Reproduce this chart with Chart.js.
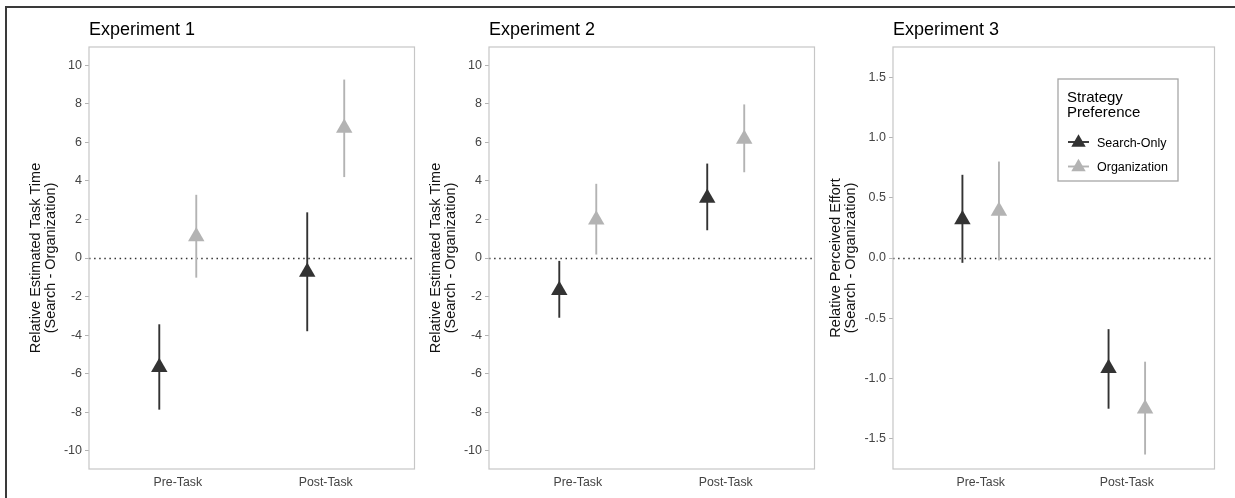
<!DOCTYPE html>
<html>
<head>
<meta charset="utf-8">
<script src="https://cdn.jsdelivr.net/npm/chart.js@4.4.0/dist/chart.umd.min.js"></script>
<style>
  body { margin: 0; background: #fff; font-family: "Liberation Sans", Arial, sans-serif; }
  #page { position: relative; width: 1235px; height: 498px; overflow: hidden; background: #fff; }
  #frame { position: absolute; left: 5px; top: 6px; right: -4px; bottom: -4px; border-top: 2px solid #3a3a3a; border-left: 2px solid #3a3a3a; }
  canvas { position: absolute; top: 8px; }
</style>
</head>
<body>
<div id="page">
  <div id="frame"></div>
  <canvas id="exp1" width="397" height="490" style="left:27px"></canvas>
  <canvas id="exp2" width="397" height="490" style="left:427px"></canvas>
  <canvas id="exp3" width="397" height="490" style="left:827px"></canvas>
</div>
<script>
// x categories and series names
const categories = ['Pre-Task', 'Post-Task'];
const seriesNames = ['Search-Only', 'Organization'];
const seriesColors = ['#333333', '#b3b3b3'];

// Experiment 1: means and interval ends (Pre, Post)
const exp1SearchMean = [-5.67, -0.73];
const exp1SearchLow = [-7.87, -3.80];
const exp1SearchHigh = [-3.44, 2.37];
const exp1OrgMean = [1.12, 6.74];
const exp1OrgLow = [-1.02, 4.20];
const exp1OrgHigh = [3.28, 9.26];

// Experiment 2
const exp2SearchMean = [-1.67, 3.11];
const exp2SearchLow = [-3.10, 1.44];
const exp2SearchHigh = [-0.15, 4.90];
const exp2OrgMean = [1.99, 6.18];
const exp2OrgLow = [0.18, 4.45];
const exp2OrgHigh = [3.85, 7.97];

// Experiment 3
const exp3SearchMean = [0.32, -0.915];
const exp3SearchLow = [-0.04, -1.25];
const exp3SearchHigh = [0.69, -0.59];
const exp3OrgMean = [0.39, -1.25];
const exp3OrgLow = [-0.02, -1.63];
const exp3OrgHigh = [0.80, -0.86];

// y tick labels
const timeTicks = [-10, -8, -6, -4, -2, 0, 2, 4, 6, 8, 10];
const effortTicks = [-1.5, -1.0, -0.5, 0.0, 0.5, 1.0, 1.5];

const dodge = 0.125;
const font = '"Liberation Sans", Arial, sans-serif';

function toPoints(means, offset) {
    return means.map((m, i) => ({ x: i + 1 + offset, y: m }));
}

// error bars, zero line, panel border and panel title
const panelDecor = {
    id: 'panelDecor',
    beforeDatasetsDraw(chart, args, opts) {
        const ctx = chart.ctx;
        const area = chart.chartArea;
        const xs = chart.scales.x;
        const ys = chart.scales.y;

        ctx.save();
        // dotted reference line at zero
        ctx.strokeStyle = '#333333';
        ctx.lineWidth = 1.6;
        ctx.setLineDash([1.5, 3.6]);
        ctx.beginPath();
        const y0 = Math.round(ys.getPixelForValue(0)) + 0.5;
        ctx.moveTo(area.left, y0);
        ctx.lineTo(area.right, y0);
        ctx.stroke();
        ctx.setLineDash([]);

        // vertical interval lines
        opts.bars.forEach((s, si) => {
            ctx.strokeStyle = seriesColors[si];
            ctx.lineWidth = 1.9;
            s.low.forEach((lo, i) => {
                const x = xs.getPixelForValue(i + 1 + s.offset);
                ctx.beginPath();
                ctx.moveTo(x, ys.getPixelForValue(lo));
                ctx.lineTo(x, ys.getPixelForValue(s.high[i]));
                ctx.stroke();
            });
        });

        // panel border
        ctx.strokeStyle = '#c6c6c6';
        ctx.lineWidth = 1.2;
        ctx.strokeRect(area.left, area.top, area.right - area.left, area.bottom - area.top);

        // panel title
        ctx.fillStyle = '#000';
        ctx.font = '18px ' + font;
        ctx.textAlign = 'left';
        ctx.textBaseline = 'alphabetic';
        ctx.fillText(opts.title, area.left, 27);
        ctx.restore();
    }
};

function triangle(ctx, x, y, r) {
    ctx.beginPath();
    ctx.moveTo(x, y - r);
    ctx.lineTo(x + Math.sin(2 * Math.PI / 3) * r, y + r / 2);
    ctx.lineTo(x - Math.sin(2 * Math.PI / 3) * r, y + r / 2);
    ctx.closePath();
    ctx.fill();
}

// legend box drawn inside the third panel
const boxLegend = {
    id: 'boxLegend',
    afterDraw(chart, args, opts) {
        if (!opts.show) return;
        const ctx = chart.ctx;
        const area = chart.chartArea;
        const left = area.left + 165;
        const top = area.top + 32;
        ctx.save();
        ctx.fillStyle = '#fff';
        ctx.fillRect(left, top, 120, 102);
        ctx.strokeStyle = '#a6a6a6';
        ctx.lineWidth = 1.3;
        ctx.strokeRect(left, top, 120, 102);

        ctx.fillStyle = '#000';
        ctx.font = '15px ' + font;
        ctx.textBaseline = 'alphabetic';
        ctx.fillText('Strategy', left + 9, top + 23);
        ctx.fillText('Preference', left + 9, top + 38);

        ctx.font = '12.5px ' + font;
        seriesNames.forEach((name, i) => {
            const cy = top + 63.5 + i * 24.5;
            ctx.strokeStyle = seriesColors[i];
            ctx.lineWidth = 1.9;
            ctx.beginPath();
            ctx.moveTo(left + 10, cy - 0.5);
            ctx.lineTo(left + 31, cy - 0.5);
            ctx.stroke();
            ctx.fillStyle = seriesColors[i];
            triangle(ctx, left + 20.5, cy, 8.3);
            ctx.fillStyle = '#000';
            ctx.fillText(name, left + 39, cy + 4);
        });
        ctx.restore();
    }
};

function makePanel(id, title, axisTitle, range, ticks, fmt, axisWidth, search, org, legend) {
    new Chart(document.getElementById(id), {
        type: 'scatter',
        data: {
            datasets: [
                {
                    label: seriesNames[0],
                    data: toPoints(search.mean, -dodge),
                    backgroundColor: seriesColors[0],
                    pointStyle: 'triangle',
                    pointRadius: 9.5,
                    pointBorderWidth: 0
                },
                {
                    label: seriesNames[1],
                    data: toPoints(org.mean, dodge),
                    backgroundColor: seriesColors[1],
                    pointStyle: 'triangle',
                    pointRadius: 9.5,
                    pointBorderWidth: 0
                }
            ]
        },
        options: {
            responsive: false,
            animation: false,
            layout: { padding: { top: 39, right: 2, bottom: 0, left: 0 } },
            scales: {
                x: {
                    type: 'linear',
                    min: 0.4,
                    max: 2.6,
                    afterBuildTicks: (scale) => { scale.ticks = categories.map((c, i) => ({ value: i + 1 })); },
                    afterFit: (scale) => {
                        scale.height = 29;
                        scale.paddingLeft = 0;
                        scale.paddingRight = 0;
                    },
                    grid: { display: false, drawTicks: false },
                    border: { display: false },
                    ticks: {
                        padding: 6,
                        color: '#444444',
                        font: { family: font, size: 12.3 },
                        callback: (v) => categories[Math.round(v) - 1]
                    }
                },
                y: {
                    min: -range,
                    max: range,
                    afterBuildTicks: (scale) => { scale.ticks = ticks.map(v => ({ value: v })); },
                    afterFit: (scale) => { scale.width = axisWidth; },
                    grid: { drawOnChartArea: false, drawTicks: true, tickLength: 4, tickColor: '#b3b3b3' },
                    border: { display: false },
                    ticks: {
                        padding: 3,
                        color: '#444444',
                        font: { family: font, size: 12.5 },
                        callback: fmt
                    },
                    title: {
                        display: true,
                        text: axisTitle,
                        color: '#111',
                        font: { family: font, size: 14.5, lineHeight: 1.0 },
                        padding: { top: 2, bottom: 0 }
                    }
                }
            },
            plugins: {
                legend: { display: false },
                tooltip: { enabled: false },
                panelDecor: {
                    title: title,
                    bars: [
                        { offset: -dodge, low: search.low, high: search.high },
                        { offset: dodge, low: org.low, high: org.high }
                    ]
                },
                boxLegend: { show: legend }
            }
        },
        plugins: [panelDecor, boxLegend]
    });
}

const timeTitle = ['Relative Estimated Task Time', '(Search - Organization)'];
const effortTitle = ['Relative Perceived Effort', '(Search - Organization)'];

makePanel('exp1', 'Experiment 1', timeTitle, 10.95, timeTicks, (v) => String(v), 62,
    { mean: exp1SearchMean, low: exp1SearchLow, high: exp1SearchHigh },
    { mean: exp1OrgMean, low: exp1OrgLow, high: exp1OrgHigh }, false);

makePanel('exp2', 'Experiment 2', timeTitle, 10.95, timeTicks, (v) => String(v), 62,
    { mean: exp2SearchMean, low: exp2SearchLow, high: exp2SearchHigh },
    { mean: exp2OrgMean, low: exp2OrgLow, high: exp2OrgHigh }, false);

makePanel('exp3', 'Experiment 3', effortTitle, 1.75, effortTicks, (v) => v.toFixed(1), 66,
    { mean: exp3SearchMean, low: exp3SearchLow, high: exp3SearchHigh },
    { mean: exp3OrgMean, low: exp3OrgLow, high: exp3OrgHigh }, true);
</script>
</body>
</html>
